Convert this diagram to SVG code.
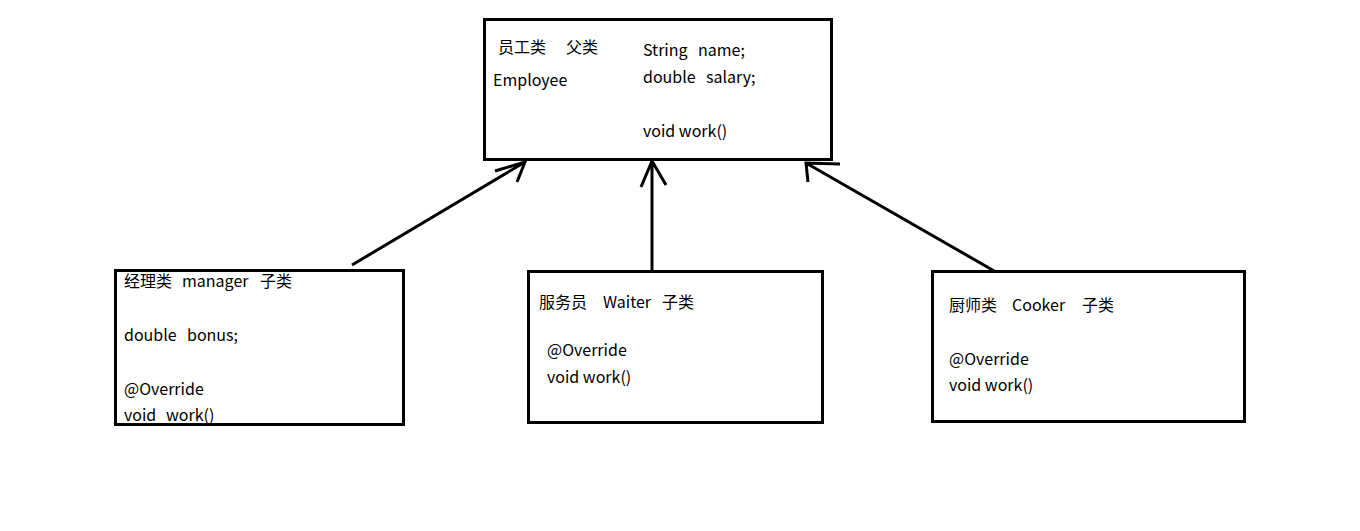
<svg xmlns="http://www.w3.org/2000/svg" width="1360" height="531" viewBox="0 0 1360 531">
<style>
.box{fill:#fff;stroke:#000;stroke-width:3}
.t{font-family:"Noto Sans CJK SC","Microsoft YaHei","Noto Sans",sans-serif;font-size:16px;fill:#000}
.c{stroke:#000;stroke-width:3;fill:none;stroke-linecap:butt}
</style>
<rect width="1360" height="531" fill="#fff"/>
<g id="connectors">
<path class="c" d="M352,265 L525,162 M495,171 L525,162 L517,182"/>
<path class="c" d="M652,270 L652,161 M641,187 L652,161 L666,185"/>
<path class="c" d="M996,272 L806,163 M808,182 L806,163 L840,164"/>
</g>
<g id="employee">
<rect class="box" x="484.5" y="19.5" width="347" height="140"/>
<text class="t" x="498" y="53">员工类</text>
<text class="t" x="566" y="53">父类</text>
<text class="t" x="493" y="86">Employee</text>
<text class="t" x="643" y="56">String</text>
<text class="t" x="698" y="56">name;</text>
<text class="t" x="643" y="83">double</text>
<text class="t" x="706" y="83">salary;</text>
<text class="t" x="643" y="137">void work()</text>
</g>
<g id="manager">
<rect class="box" x="115.5" y="270.5" width="288" height="154"/>
<text class="t" x="124" y="287">经理类</text>
<text class="t" x="182" y="287">manager</text>
<text class="t" x="260" y="287">子类</text>
<text class="t" x="124" y="341">double</text>
<text class="t" x="187" y="341">bonus;</text>
<text class="t" x="124" y="395">@Override</text>
<text class="t" x="124" y="421">void</text>
<text class="t" x="166" y="421">work()</text>
</g>
<g id="waiter">
<rect class="box" x="528.5" y="271.5" width="294" height="151"/>
<text class="t" x="539" y="308">服务员</text>
<text class="t" x="603" y="308">Waiter</text>
<text class="t" x="662" y="308">子类</text>
<text class="t" x="547" y="356">@Override</text>
<text class="t" x="547" y="383">void work()</text>
</g>
<g id="cooker">
<rect class="box" x="932.5" y="271.5" width="312" height="150"/>
<text class="t" x="949" y="311">厨师类</text>
<text class="t" x="1012" y="311">Cooker</text>
<text class="t" x="1082" y="311">子类</text>
<text class="t" x="949" y="365">@Override</text>
<text class="t" x="949" y="391">void work()</text>
</g>
</svg>
